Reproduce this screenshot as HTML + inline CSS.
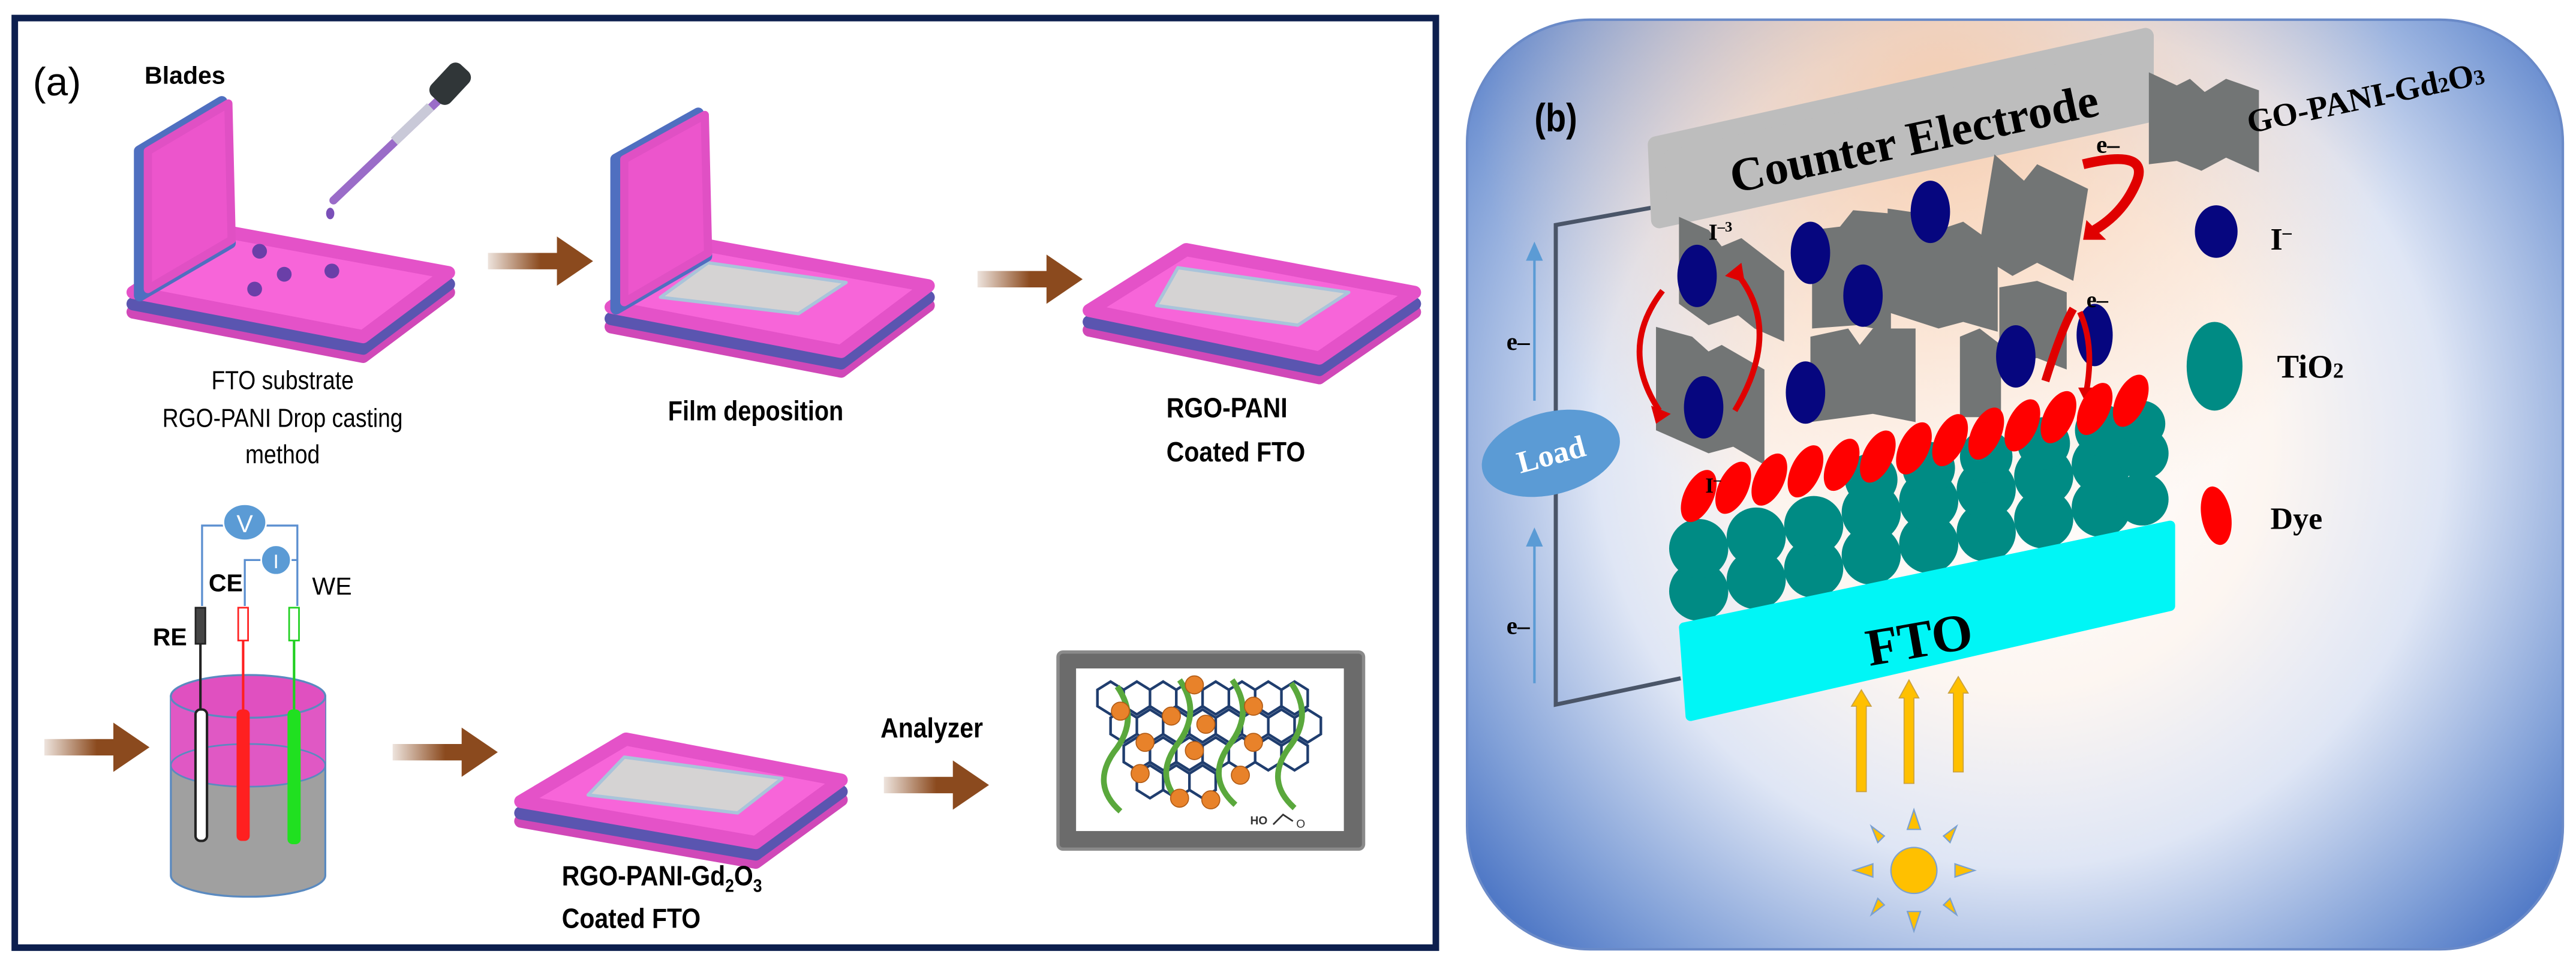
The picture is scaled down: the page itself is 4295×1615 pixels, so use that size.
<!DOCTYPE html>
<html><head><meta charset="utf-8"><style>
html,body{margin:0;padding:0;background:#fff;}
svg{display:block;}
.c{font-family:"Liberation Sans",sans-serif;}
.s{font-family:"Liberation Serif",serif;font-weight:bold;}
</style></head><body>
<svg width="4295" height="1615" viewBox="0 0 1568 590" preserveAspectRatio="none" xmlns="http://www.w3.org/2000/svg">
<defs>
<linearGradient id="arr" x1="0" x2="1"><stop offset="0" stop-color="#8b4a1e" stop-opacity="0.15"/><stop offset="0.5" stop-color="#8b4a1e"/><stop offset="1" stop-color="#8b4a1e"/></linearGradient>
<radialGradient id="bg" cx="1230" cy="270" r="430" gradientUnits="userSpaceOnUse">
<stop offset="0" stop-color="#ffffff"/><stop offset="0.35" stop-color="#fdf6f1"/><stop offset="0.6" stop-color="#dfe6f5"/><stop offset="0.85" stop-color="#82a1d8"/><stop offset="1" stop-color="#4a74c4"/></radialGradient>
<radialGradient id="peach" cx="1180" cy="60" r="280" gradientUnits="userSpaceOnUse"><stop offset="0" stop-color="#f6c9a8" stop-opacity="0.85"/><stop offset="1" stop-color="#f6c9a8" stop-opacity="0"/></radialGradient>
<clipPath id="pb"><rect x="893" y="12" width="667" height="566" rx="75"/></clipPath>
<g id="arrow"><polygon points="0,10 42,10 42,0 64,15 42,30 42,20 0,20" fill="url(#arr)"/></g>
</defs>

<!-- Panel a -->
<rect x="9" y="11" width="865" height="566" fill="#fff" stroke="#0d1f4e" stroke-width="4"/>
<text x="20" y="58" class="c" font-size="24">(a)</text>
<text x="88" y="51" class="c" font-size="15" font-weight="bold">Blades</text>

<!-- plate 1 -->
<g stroke-linejoin="round">
<polygon points="137,153 273,178 221,217 81,190" fill="#d048b8" stroke="#d048b8" stroke-width="8"/>
<polygon points="137,148 273,173 221,212 81,185" fill="#5a55b0" stroke="#5a55b0" stroke-width="8"/>
<polygon points="137,141 273,166 221,205 81,178" fill="#f765d9" stroke="#e452c8" stroke-width="8"/>
<polygon points="85,92 135,62 140,148 85,180" fill="#4f6fc0" stroke="#4f6fc0" stroke-width="7"/>
<polygon points="90,92 139,63 141,146 90,176" fill="#ec55cc" stroke="#e050c4" stroke-width="5"/>
</g>
<circle cx="158" cy="153" r="4.5" fill="#6a3fa8"/><circle cx="173" cy="167" r="4.5" fill="#6a3fa8"/><circle cx="202" cy="165" r="4.5" fill="#6a3fa8"/><circle cx="155" cy="176" r="4.5" fill="#6a3fa8"/>
<line x1="268" y1="60" x2="203" y2="122" stroke="#9a6cc8" stroke-width="5" stroke-linecap="round"/>
<line x1="262" y1="65" x2="240" y2="86" stroke="#c9c9d8" stroke-width="6"/>
<rect x="266" y="38" width="16" height="26" rx="5" fill="#303638" transform="rotate(43 274 51)"/>
<ellipse cx="201" cy="130" rx="2.5" ry="3.5" fill="#7a4fb8"/>
<g transform="translate(172 0) scale(0.85 1)">
<text x="0" y="237" class="c" font-size="16" text-anchor="middle">FTO substrate</text>
<text x="0" y="260" class="c" font-size="16" text-anchor="middle">RGO-PANI Drop casting</text>
<text x="0" y="282" class="c" font-size="16" text-anchor="middle">method</text>
</g>

<use href="#arrow" x="297" y="144"/>

<!-- plate 2 -->
<g stroke-linejoin="round">
<polygon points="428,161 565,186 512,226 372,199" fill="#d048b8" stroke="#d048b8" stroke-width="8"/>
<polygon points="428,156 565,181 512,221 372,194" fill="#5a55b0" stroke="#5a55b0" stroke-width="8"/>
<polygon points="428,149 565,174 512,214 372,187" fill="#f765d9" stroke="#e452c8" stroke-width="8"/>
<polygon points="431,160 515,172 486,191 402,181" fill="#d5d3d3" stroke="#a9c4da" stroke-width="2"/>
<polygon points="375,97 425,69 430,156 375,188" fill="#4f6fc0" stroke="#4f6fc0" stroke-width="7"/>
<polygon points="380,97 429,70 431,154 380,184" fill="#ec55cc" stroke="#e050c4" stroke-width="5"/>
</g>
<text x="460" y="256" class="c" font-size="17" font-weight="bold" text-anchor="middle" transform="translate(460 0) scale(0.85 1) translate(-460 0)">Film deposition</text>

<use href="#arrow" x="595" y="155"/>

<!-- plate 3 -->
<g stroke-linejoin="round">
<polygon points="722,164 861,190 803,230 663,201" fill="#d048b8" stroke="#d048b8" stroke-width="8"/>
<polygon points="722,159 861,185 803,225 663,196" fill="#5a55b0" stroke="#5a55b0" stroke-width="8"/>
<polygon points="722,152 861,178 803,218 663,189" fill="#f765d9" stroke="#e452c8" stroke-width="8"/>
<polygon points="717,163 821,178 790,198 704,186" fill="#d5d3d3" stroke="#a9c4da" stroke-width="2"/>
</g>
<g transform="translate(710 0) scale(0.88 1)">
<text x="0" y="254" class="c" font-size="17" font-weight="bold">RGO-PANI</text>
<text x="0" y="281" class="c" font-size="17" font-weight="bold">Coated FTO</text>
</g>

<!-- bottom row -->
<use href="#arrow" x="27" y="440"/>
<path d="M104,424 L104,533 A47,13 0 0 0 198,533 L198,424 Z" fill="#a0a0a0" stroke="#5a8ac0" stroke-width="1.2"/>
<path d="M104,424 L104,466 A47,13 0 0 0 198,466 L198,424 Z" fill="#e058c4"/>
<ellipse cx="151" cy="466" rx="47" ry="13" fill="none" stroke="#5a8ac0" stroke-width="1"/>
<ellipse cx="151" cy="424" rx="47" ry="13" fill="#e050c0" stroke="#5a8ac0" stroke-width="1.2"/>
<rect x="119" y="432" width="7" height="80" rx="3" fill="#fff" stroke="#222" stroke-width="1.5"/>
<line x1="122" y1="370" x2="122" y2="432" stroke="#222" stroke-width="1.5"/>
<rect x="119" y="370" width="6" height="22" fill="#444" stroke="#222"/>
<rect x="144" y="432" width="8" height="80" rx="3" fill="#ff2020"/>
<line x1="148" y1="370" x2="148" y2="432" stroke="#ff2020" stroke-width="1.5"/>
<rect x="145" y="370" width="6" height="20" fill="#fff" stroke="#ff2020"/>
<rect x="175" y="432" width="8" height="82" rx="3" fill="#20e020"/>
<line x1="179" y1="370" x2="179" y2="432" stroke="#20d020" stroke-width="1.5"/>
<rect x="176" y="370" width="6" height="20" fill="#fff" stroke="#20d020"/>
<polyline points="123,369 123,320 181,320 181,369" fill="none" stroke="#5b8fd0" stroke-width="1.2"/>
<polyline points="149,369 149,341 181,341" fill="none" stroke="#5b8fd0" stroke-width="1.2"/>
<ellipse cx="149" cy="318" rx="13" ry="11" fill="#5b9bd5" stroke="#fff" stroke-width="1"/>
<text x="149" y="324" class="c" font-size="15" fill="#fff" text-anchor="middle">V</text>
<ellipse cx="168" cy="341" rx="9" ry="9" fill="#5b9bd5" stroke="#fff" stroke-width="1"/>
<text x="168" y="346" class="c" font-size="12" fill="#fff" text-anchor="middle">I</text>
<text x="127" y="360" class="c" font-size="15" font-weight="bold">CE</text>
<text x="190" y="362" class="c" font-size="15">WE</text>
<text x="93" y="393" class="c" font-size="15" font-weight="bold">RE</text>

<use href="#arrow" x="239" y="443"/>

<g stroke-linejoin="round">
<polygon points="381,462 512,487 460,525 317,500" fill="#d048b8" stroke="#d048b8" stroke-width="8"/>
<polygon points="381,457 512,482 460,520 317,495" fill="#5a55b0" stroke="#5a55b0" stroke-width="8"/>
<polygon points="381,450 512,475 460,513 317,488" fill="#f765d9" stroke="#e452c8" stroke-width="8"/>
<polygon points="380,461 476,474 449,495 358,484" fill="#d5d3d3" stroke="#a9c4da" stroke-width="2"/>
</g>
<g transform="translate(342 0) scale(0.88 1)">
<text x="0" y="539" class="c" font-size="17" font-weight="bold">RGO-PANI-Gd<tspan font-size="11" dy="4">2</tspan><tspan dy="-4">O</tspan><tspan font-size="11" dy="4">3</tspan></text>
<text x="0" y="565" class="c" font-size="17" font-weight="bold">Coated FTO</text>
</g>
<text x="536" y="449" class="c" font-size="17" font-weight="bold" transform="translate(536 0) scale(0.88 1) translate(-536 0)">Analyzer</text>
<use href="#arrow" x="538" y="463"/>

<rect x="644" y="397" width="186" height="120" rx="3" fill="#6b6b6b" stroke="#8a8a8a" stroke-width="2"/>
<rect x="655" y="407" width="163" height="99" fill="#fff"/>
<g stroke="#1f3d6e" stroke-width="1.6" fill="none">
<path d="M668,420 l8,-5 8,5 0,10 -8,5 -8,-5z M684,420 l8,-5 8,5 0,10 -8,5 -8,-5z M700,420 l8,-5 8,5 0,10 -8,5 -8,-5z M716,420 l8,-5 8,5 0,10 -8,5 -8,-5z M732,420 l8,-5 8,5 0,10 -8,5 -8,-5z M748,420 l8,-5 8,5 0,10 -8,5 -8,-5z M764,420 l8,-5 8,5 0,10 -8,5 -8,-5z M780,420 l8,-5 8,5 0,10 -8,5 -8,-5z"/>
<path d="M676,437 l8,-5 8,5 0,10 -8,5 -8,-5z M692,437 l8,-5 8,5 0,10 -8,5 -8,-5z M708,437 l8,-5 8,5 0,10 -8,5 -8,-5z M724,437 l8,-5 8,5 0,10 -8,5 -8,-5z M740,437 l8,-5 8,5 0,10 -8,5 -8,-5z M756,437 l8,-5 8,5 0,10 -8,5 -8,-5z M772,437 l8,-5 8,5 0,10 -8,5 -8,-5z M788,437 l8,-5 8,5 0,10 -8,5 -8,-5z"/>
<path d="M684,454 l8,-5 8,5 0,10 -8,5 -8,-5z M700,454 l8,-5 8,5 0,10 -8,5 -8,-5z M716,454 l8,-5 8,5 0,10 -8,5 -8,-5z M732,454 l8,-5 8,5 0,10 -8,5 -8,-5z M748,454 l8,-5 8,5 0,10 -8,5 -8,-5z M764,454 l8,-5 8,5 0,10 -8,5 -8,-5z M780,454 l8,-5 8,5 0,10 -8,5 -8,-5z"/>
<path d="M692,471 l8,-5 8,5 0,10 -8,5 -8,-5z M708,471 l8,-5 8,5 0,10 -8,5 -8,-5z M724,471 l8,-5 8,5 0,10 -8,5 -8,-5z"/>
</g>
<g stroke="#5aa83c" stroke-width="3.5" fill="none">
<path d="M680,418 q14,20 -2,40 q-14,20 4,36"/>
<path d="M718,414 q14,20 -2,40 q-14,20 4,36"/>
<path d="M750,414 q14,20 -2,40 q-14,20 4,36"/>
<path d="M786,416 q14,20 -2,40 q-14,20 4,36"/>
</g>
<g fill="#e8822a" stroke="#b05a14" stroke-width="0.6">
<circle cx="727" cy="417" r="5.5"/><circle cx="682" cy="433" r="5.5"/><circle cx="713" cy="436" r="5.5"/><circle cx="734" cy="441" r="5.5"/><circle cx="763" cy="430" r="5.5"/>
<circle cx="697" cy="452" r="5.5"/><circle cx="727" cy="457" r="5.5"/><circle cx="763" cy="452" r="5.5"/><circle cx="694" cy="471" r="5.5"/><circle cx="755" cy="472" r="5.5"/>
<circle cx="718" cy="486" r="5.5"/><circle cx="737" cy="487" r="5.5"/>
</g>
<text x="761" y="502" class="c" font-size="7" font-weight="bold" fill="#333">HO</text>
<path d="M775,502 l6,-6 6,4" stroke="#333" fill="none"/><text x="789" y="504" class="c" font-size="7" fill="#333">O</text>

<!-- Panel b -->
<g clip-path="url(#pb)">
<rect x="893" y="12" width="667" height="566" fill="url(#bg)"/>
<rect x="893" y="12" width="667" height="566" fill="url(#peach)"/>
</g>
<rect x="893" y="12" width="667" height="566" rx="75" fill="none" stroke="#6a8ac8" stroke-width="1.5"/>
<text x="934" y="80" class="c" font-size="24" font-weight="bold" transform="translate(934 0) scale(0.85 1) translate(-934 0)">(b)</text>

<polyline points="1008,126 947,137 947,429 1023,413" fill="none" stroke="#4a5568" stroke-width="2.5"/>
<g stroke="#5b9bd5" stroke-width="1.5" fill="#5b9bd5">
<line x1="934" y1="244" x2="934" y2="156"/><polygon points="930,158 934,149 938,158"/>
<line x1="934" y1="416" x2="934" y2="330"/><polygon points="930,332 934,323 938,332"/>
</g>
<text x="917" y="213" class="s" font-size="15">e–</text>
<text x="917" y="386" class="s" font-size="15">e–</text>
<ellipse cx="944" cy="276" rx="43" ry="25" transform="rotate(-15 944 276)" fill="#5b9bd5"/>
<text x="944" y="283" class="s" font-size="19" fill="#fff" text-anchor="middle" transform="rotate(-15 944 276)">Load</text>

<polygon points="1008,88 1306,22 1306,70 1010,134" fill="#bdbdbd" stroke="#bdbdbd" stroke-width="10" stroke-linejoin="round"/>
<text x="1165" y="94" class="s" font-size="29" font-weight="normal" text-anchor="middle" transform="rotate(-12 1165 84)" style="font-weight:bold">Counter Electrode</text>

<g fill="#727575">
<polygon points="1022,132 1040,140 1048,150 1060,145 1086,165 1086,208 1068,200 1058,192 1040,198 1022,185"/>
<polygon points="1008,199 1030,205 1040,214 1048,210 1074,225 1074,283 1055,272 1040,276 1008,262"/>
<polygon points="1103,140 1120,138 1128,128 1151,130 1151,202 1130,198 1103,200"/>
<polygon points="1102,205 1125,200 1132,210 1140,200 1166,200 1166,257 1140,252 1102,257"/>
<polygon points="1149,127 1170,130 1180,140 1195,135 1216,150 1216,202 1195,196 1180,200 1149,190"/>
<polygon points="1193,205 1205,200 1218,210 1218,254 1193,254"/>
<polygon points="1214,94 1232,110 1240,100 1271,115 1262,171 1240,160 1225,168 1204,155"/>
<polygon points="1217,175 1240,171 1258,178 1258,225 1240,218 1217,222"/>
<polygon points="1308,44 1325,52 1333,48 1342,56 1355,48 1375,55 1375,105 1355,96 1340,104 1325,98 1308,100"/>
</g>
<g fill="#06067f">
<ellipse cx="1033" cy="168" rx="12" ry="19"/><ellipse cx="1037" cy="248" rx="12" ry="19"/>
<ellipse cx="1102" cy="154" rx="12" ry="19"/><ellipse cx="1134" cy="180" rx="12" ry="19"/>
<ellipse cx="1099" cy="239" rx="12" ry="19"/><ellipse cx="1175" cy="129" rx="12" ry="19"/>
<ellipse cx="1227" cy="217" rx="12" ry="19"/><ellipse cx="1275" cy="204" rx="11" ry="19"/>
<ellipse cx="1349" cy="141" rx="13" ry="16"/>
</g>
<g fill="none" stroke="#e00000" stroke-width="3.5">
<path d="M1012,177 Q985,212 1010,250"/>
<path d="M1056,165 Q1086,200 1056,250"/>
<path d="M1268,100 Q1310,90 1300,112 Q1292,130 1275,140" stroke-width="6"/>
<path d="M1245,232 Q1255,200 1262,188" stroke-width="5"/>
<path d="M1266,190 Q1275,210 1270,238"/>
</g>
<g fill="#e00000">
<polygon points="1005,247 1017,252 1008,258"/>
<polygon points="1050,168 1060,160 1062,172"/>
<polygon points="1270,134 1282,146 1268,146"/>
<polygon points="1265,236 1275,236 1270,246"/>
</g>
<text x="1040" y="146" class="s" font-size="14">I<tspan font-size="9" dy="-5">–3</tspan></text>
<text x="1276" y="93" class="s" font-size="15">e–</text>
<text x="1270" y="187" class="s" font-size="14">e–</text>

<g fill="#008b84">
<circle cx="1034" cy="360" r="18"/><circle cx="1069" cy="353" r="18"/><circle cx="1104" cy="346" r="18"/><circle cx="1139" cy="338" r="18"/><circle cx="1174" cy="331" r="18"/><circle cx="1209" cy="324" r="18"/><circle cx="1244" cy="316" r="18"/><circle cx="1279" cy="309" r="18"/><circle cx="1304" cy="304" r="16"/>
<circle cx="1034" cy="334" r="18"/><circle cx="1069" cy="327" r="18"/><circle cx="1104" cy="320" r="18"/><circle cx="1139" cy="312" r="18"/><circle cx="1174" cy="305" r="18"/><circle cx="1209" cy="298" r="18"/><circle cx="1244" cy="290" r="18"/><circle cx="1279" cy="283" r="18"/><circle cx="1304" cy="276" r="16"/>
<circle cx="1139" cy="292" r="16"/><circle cx="1174" cy="285" r="16"/><circle cx="1209" cy="278" r="16"/><circle cx="1244" cy="270" r="16"/><circle cx="1279" cy="262" r="16"/><circle cx="1304" cy="258" r="14"/>
<ellipse cx="1348" cy="223" rx="17" ry="27"/>
</g>
<g fill="#ff0000">
<ellipse cx="1034" cy="302" rx="9" ry="17" transform="rotate(25 1034 302)"/>
<ellipse cx="1055" cy="297" rx="9" ry="17" transform="rotate(25 1055 297)"/>
<ellipse cx="1077" cy="292" rx="9" ry="17" transform="rotate(25 1077 292)"/>
<ellipse cx="1099" cy="287" rx="9" ry="17" transform="rotate(25 1099 287)"/>
<ellipse cx="1121" cy="283" rx="9" ry="17" transform="rotate(25 1121 283)"/>
<ellipse cx="1143" cy="278" rx="9" ry="17" transform="rotate(25 1143 278)"/>
<ellipse cx="1165" cy="273" rx="9" ry="17" transform="rotate(25 1165 273)"/>
<ellipse cx="1187" cy="268" rx="9" ry="17" transform="rotate(25 1187 268)"/>
<ellipse cx="1209" cy="264" rx="9" ry="17" transform="rotate(25 1209 264)"/>
<ellipse cx="1231" cy="259" rx="9" ry="17" transform="rotate(25 1231 259)"/>
<ellipse cx="1253" cy="254" rx="9" ry="17" transform="rotate(25 1253 254)"/>
<ellipse cx="1275" cy="249" rx="9" ry="17" transform="rotate(25 1275 249)"/>
<ellipse cx="1297" cy="244" rx="9" ry="17" transform="rotate(25 1297 244)"/>
<ellipse cx="1349" cy="314" rx="9" ry="18" transform="rotate(-10 1349 314)"/>
</g>
<text x="1038" y="300" class="s" font-size="13">I<tspan font-size="9" dy="-5">–</tspan></text>

<polygon points="1025,382 1321,320 1321,369 1029,436" fill="#00f6f6" stroke="#00f6f6" stroke-width="6" stroke-linejoin="round"/>
<text x="1168" y="400" class="s" font-size="32" text-anchor="middle" transform="rotate(-10 1168 388)">FTO</text>

<text x="1440" y="66" class="s" font-size="20" text-anchor="middle" transform="rotate(-12 1440 60)">GO-PANI-Gd<tspan font-size="13">2</tspan>O<tspan font-size="13">3</tspan></text>
<text x="1382" y="152" class="s" font-size="19">I<tspan font-size="11" dy="-7">–</tspan></text>
<text x="1386" y="230" class="s" font-size="20">TiO<tspan font-size="13">2</tspan></text>
<text x="1382" y="322" class="s" font-size="19">Dye</text>

<g fill="#ffc000" stroke="#c9a040" stroke-width="0.6">
<polygon points="1130,482 1130,430 1127,430 1133,420 1139,430 1136,430 1136,482"/>
<polygon points="1159,477 1159,425 1156,425 1162,414 1168,425 1165,425 1165,477"/>
<polygon points="1189,470 1189,422 1186,422 1192,412 1198,422 1195,422 1195,470"/>
</g>
<g fill="#ffc000" stroke="#7aa0d0" stroke-width="0.8">
<circle cx="1165" cy="530" r="14"/>
<polygon points="1161,505 1165,493 1169,505"/>
<polygon points="1161,555 1165,567 1169,555"/>
<polygon points="1140,526 1128,530 1140,534"/>
<polygon points="1190,526 1202,530 1190,534"/>
<polygon points="1147,509 1139,503 1143,513"/>
<polygon points="1183,509 1191,503 1187,513"/>
<polygon points="1147,551 1139,557 1143,547"/>
<polygon points="1183,551 1191,557 1187,547"/>
</g>
</svg>
</body></html>
